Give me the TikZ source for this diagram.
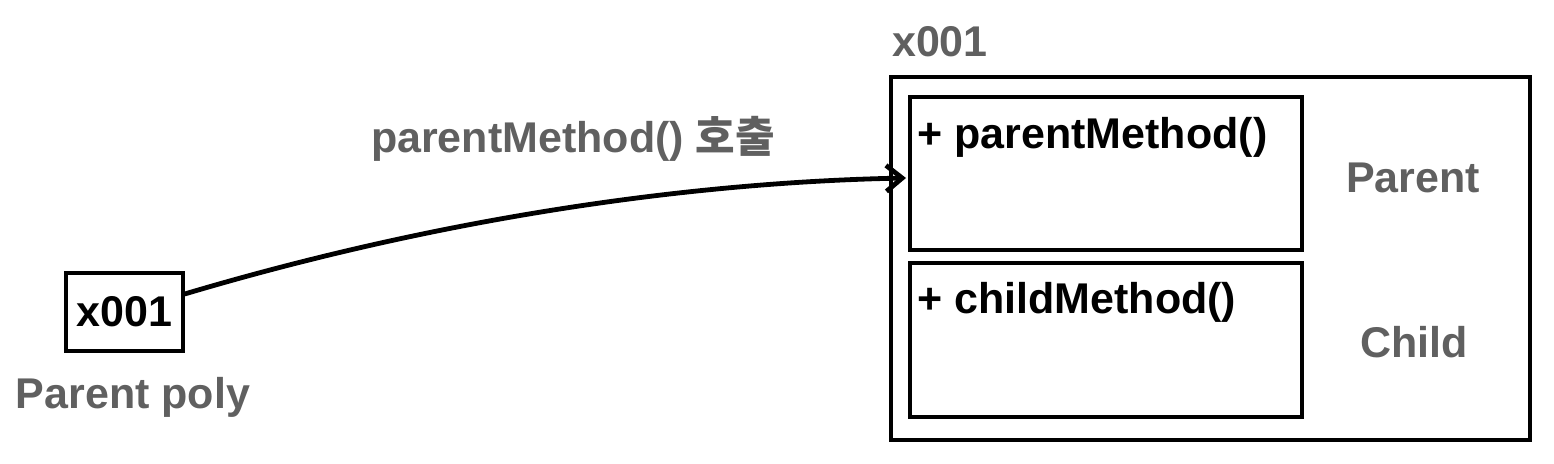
\documentclass[tikz,border=0pt]{standalone}
\usepackage{fontspec}
\setmainfont{Liberation Sans}
\newfontfamily\kr{Noto Sans CJK KR}
\usetikzlibrary{arrows.meta}
\definecolor{lbl}{HTML}{606060}
\begin{document}
\begin{tikzpicture}[x=0.5pt,y=-0.5pt,
  txt/.style={font=\fontsize{21.5}{26}\selectfont\bfseries, inner sep=0pt},
  gtxt/.style={txt, text=lbl},
  box/.style={draw=black, line width=1.7pt, inner sep=0pt}]
\useasboundingbox (0,0) rectangle (1554,464);
% small box
\node[box, minimum width=58.5pt, minimum height=39pt] (ref) at (124.5,312) {};
\node[txt] (reftxt) at (ref.center) {x001};
\node[gtxt] (poly) at (133,397) {Parent poly};
% big box
\node[box, minimum width=319.5pt, minimum height=181.5pt] (obj) at (1210.5,258.5) {};
\node[gtxt] (objlbl) at (940,42) {x001};
\node[box, minimum width=196pt, minimum height=76.5pt] (pbox) at (1106,173.5) {};
\node[box, minimum width=196pt, minimum height=77pt] (cbox) at (1106,340) {};
\node[txt, anchor=west] (pm) at (917,137) {+ parentMethod()};
\node[txt, anchor=west] (cm) at (917,302) {+ childMethod()};
\node[gtxt] (plbl) at (1413,178) {Parent};
\node[gtxt] (clbl) at (1414,342) {Child};
% arrow
\coordinate (tip) at (906,178);
\draw[line width=2.4pt, -{Straight Barb[length=8pt,width=13pt,line width=2.4pt]}]
  (ref.east |- 0,294) .. controls (450,215) and (700,182) .. (tip);
\node[gtxt] (call) at (573,139) {parentMethod() {\kr 호출}};
\end{tikzpicture}
\end{document}
